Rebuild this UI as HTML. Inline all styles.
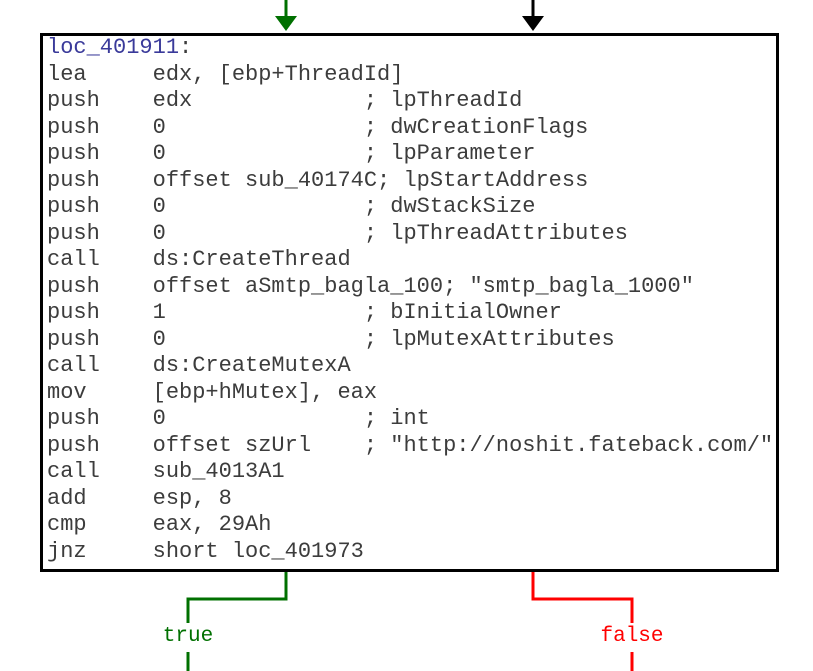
<!DOCTYPE html>
<html><head><style>
html,body{margin:0;padding:0;background:#fff;width:813px;height:671px;overflow:hidden;position:relative}
.box{position:absolute;left:40px;top:33px;width:733px;height:533px;border:3px solid #000;background:#fff}
pre{position:absolute;left:47px;top:35px;margin:0;font-family:"Liberation Mono","DejaVu Sans Mono",monospace;font-size:22px;line-height:26.5px;color:#3c3c3c}
.l{color:#3a3a9a}
.lbl{position:absolute;font-family:"Liberation Mono",monospace;font-size:21px;transform:translateX(-50%)}
</style></head><body>
<svg width="813" height="671" style="position:absolute;left:0;top:0">
<line x1="286" y1="0" x2="286" y2="18" stroke="#007000" stroke-width="3"/>
<polygon points="275,16 297,16 286,31" fill="#007000"/>
<line x1="533" y1="0" x2="533" y2="18" stroke="#000" stroke-width="3"/>
<polygon points="522,16 544,16 533,31" fill="#000"/>
<polyline points="286,572 286,599 188,599 188,623" fill="none" stroke="#007000" stroke-width="3"/>
<line x1="188" y1="652" x2="188" y2="671" stroke="#007000" stroke-width="3"/>
<polyline points="533,572 533,599 632,599 632,623" fill="none" stroke="#ff0000" stroke-width="3"/>
<line x1="632" y1="652" x2="632" y2="671" stroke="#ff0000" stroke-width="3"/>
</svg>
<div class="box"></div>
<pre><span class="l">loc_401911</span>:
lea     edx, [ebp+ThreadId]
push    edx             ; lpThreadId
push    0               ; dwCreationFlags
push    0               ; lpParameter
push    offset sub_40174C; lpStartAddress
push    0               ; dwStackSize
push    0               ; lpThreadAttributes
call    ds:CreateThread
push    offset aSmtp_bagla_100; "smtp_bagla_1000"
push    1               ; bInitialOwner
push    0               ; lpMutexAttributes
call    ds:CreateMutexA
mov     [ebp+hMutex], eax
push    0               ; int
push    offset szUrl    ; "http://noshit.fateback.com/"
call    sub_4013A1
add     esp, 8
cmp     eax, 29Ah
jnz     short loc_401973</pre>
<div class="lbl" style="left:188px;top:625px;color:#007000">true</div>
<div class="lbl" style="left:632px;top:625px;color:#ff0000">false</div>
</body></html>
